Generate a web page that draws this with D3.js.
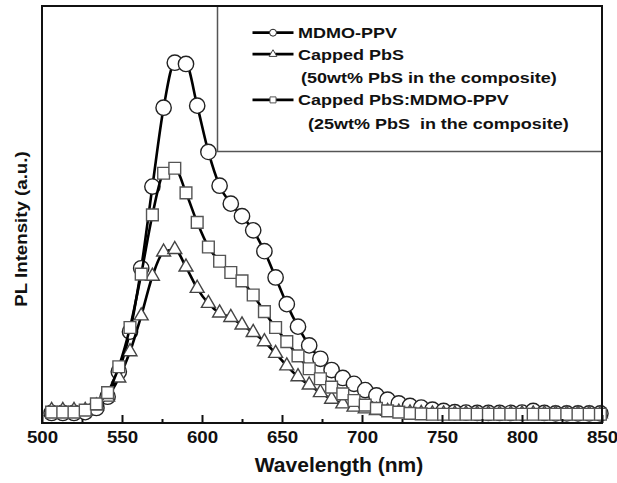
<!DOCTYPE html>
<html>
  <head>
    <style>
      body,
      html {
        margin: 0;
        padding: 0;
        background: #fff;
      }
      svg text {
        font-family: 'Liberation Sans', Arial, sans-serif;
        font-weight: bold;
        fill: #111;
      }
    </style>
  </head>
  <body>
    <svg id="svg" width="617" height="483"></svg>

    <script src="https://cdn.jsdelivr.net/npm/d3@7"></script>
    <script>
      // wavelength (nm) of every plotted point
      const wavelengths = [
        506, 513, 520, 527, 534, 541, 548, 555, 562, 569, 576, 583, 590, 597,
        604, 611, 618, 625, 632, 639, 646, 653, 660, 667, 674, 681, 688, 695,
        702, 709, 716, 723, 730, 737, 744, 751, 758, 765, 772, 779, 786, 793,
        800, 807, 814, 821, 828, 835, 842, 849,
      ];
      // PL intensity, arbitrary units
      const mdmoPPV = [
        2.4, 2.4, 2.4, 2.6, 3.6, 6.3, 12.3, 21.9, 37.1, 56.7, 75.6, 86.4, 86.1,
        76.1, 65.0, 56.9, 52.6, 49.6, 46.2, 41.2, 34.9, 28.5, 23.1, 18.6, 15.4,
        12.7, 10.8, 9.4, 7.9, 6.6, 5.6, 4.7, 4.1, 3.7, 3.2, 2.9, 2.6, 2.5, 2.4,
        2.4, 2.4, 2.4, 2.5, 2.9, 2.4, 2.3, 2.3, 2.3, 2.3, 2.3,
      ];
      const cappedPbS = [
        3.0, 3.0, 3.0, 3.0, 4.1, 6.2, 10.8, 17.1, 25.7, 35.2, 41.0, 41.6, 37.4,
        32.3, 28.7, 26.4, 25.3, 23.5, 21.7, 19.5, 16.7, 13.7, 11.1, 9.1, 7.3,
        5.7, 4.6, 3.8, 3.4, 3.0, 2.8, 2.6, 2.4, 2.3, 2.2, 2.2, 2.2, 2.2, 2.2,
        2.2, 2.2, 2.2, 2.2, 2.2, 2.2, 2.2, 2.2, 2.2, 2.2, 2.2,
      ];
      const compositePPV = [
        2.6, 2.6, 2.6, 3.1, 4.6, 7.3, 13.5, 22.9, 35.7, 49.9, 59.9, 61.1, 55.2,
        48.1, 42.2, 38.8, 36.1, 34.1, 30.7, 26.7, 22.9, 19.5, 16.1, 13.0, 10.6,
        8.6, 7.0, 5.4, 4.3, 3.5, 2.9, 2.6, 2.3, 2.2, 2.1, 2.1, 2.1, 2.1, 2.1,
        2.1, 2.1, 2.1, 2.1, 2.1, 2.1, 2.1, 2.1, 2.1, 2.1, 2.1,
      ];
      const xTicks = [500, 550, 600, 650, 700, 750, 800, 850];
      const xMinorTicks = [525, 575, 625, 675, 725, 775, 825];
      const legendLabels = [
        'MDMO-PPV',
        'Capped PbS',
        '(50wt% PbS in the composite)',
        'Capped PbS:MDMO-PPV',
        '(25wt% PbS  in the composite)',
      ];

      const width = 617;
      const height = 483;
      const plotLeft = 42;
      const plotRight = 602;
      const plotTop = 6;
      const plotBottom = 423;

      const xScale = d3
        .scaleLinear()
        .domain([500, 850])
        .range([plotLeft, plotRight]);
      const yScale = d3
        .scaleLinear()
        .domain([0, 100])
        .range([plotBottom, plotTop]);

      const svg = d3.select('#svg');

      // legend frame sits under the curves
      svg
        .append('rect')
        .attr('x', 217.5)
        .attr('y', plotTop)
        .attr('width', plotRight - 217.5)
        .attr('height', 151.5 - plotTop)
        .attr('fill', 'none')
        .attr('stroke', '#555')
        .attr('stroke-width', 1.5);

      const series = [
        { values: mdmoPPV, symbol: d3.symbolCircle, size: 185, stroke: '#222' },
        { values: cappedPbS, symbol: d3.symbolTriangle, size: 84, stroke: '#444' },
        { values: compositePPV, symbol: d3.symbolSquare, size: 138, stroke: '#555' },
      ];

      const linegen = d3
        .line()
        .x((d) => xScale(d.w))
        .y((d) => yScale(d.v))
        .curve(d3.curveMonotoneX);

      series.forEach((s) => {
        const pts = wavelengths.map((w, i) => ({ w: w, v: s.values[i] }));
        const g = svg.append('g');
        g.append('path')
          .attr('d', linegen(pts))
          .attr('fill', 'none')
          .attr('stroke', '#000')
          .attr('stroke-width', 2.6);
        g.selectAll('path.marker')
          .data(pts)
          .join('path')
          .attr('class', 'marker')
          .attr('transform', (d) => `translate(${xScale(d.w)},${yScale(d.v)})`)
          .attr('d', d3.symbol().type(s.symbol).size(s.size))
          .attr('fill', '#fff')
          .attr('stroke', s.stroke)
          .attr('stroke-width', 1.4);
      });

      // frame
      svg
        .append('rect')
        .attr('x', plotLeft)
        .attr('y', plotTop)
        .attr('width', plotRight - plotLeft)
        .attr('height', plotBottom - plotTop)
        .attr('fill', 'none')
        .attr('stroke', '#111')
        .attr('stroke-width', 2);

      // x axis, ticks pointing inward
      const bottomAxis = d3
        .axisBottom(xScale)
        .tickValues(xTicks)
        .tickSize(-8)
        .tickPadding(9)
        .tickFormat(d3.format('d'));
      const gx = svg
        .append('g')
        .attr('transform', `translate(0, ${plotBottom})`)
        .call(bottomAxis);
      gx.select('.domain').remove();
      gx.selectAll('line').attr('stroke', '#111').attr('stroke-width', 2);
      gx.selectAll('text')
        .attr('font-size', 16)
        .attr('fill', '#111')
        .attr('font-family', null)
        .attr('transform', 'scale(1.17,1)');

      const minorAxis = d3
        .axisBottom(xScale)
        .tickValues(xMinorTicks)
        .tickSize(-4)
        .tickFormat('');
      const gm = svg
        .append('g')
        .attr('transform', `translate(0, ${plotBottom})`)
        .call(minorAxis);
      gm.select('.domain').remove();
      gm.selectAll('line').attr('stroke', '#111').attr('stroke-width', 2);

      // axis titles
      svg
        .append('text')
        .attr('x', (plotLeft + plotRight) / 2 + 17)
        .attr('y', 471.5)
        .attr('text-anchor', 'middle')
        .attr('font-size', 21)
        .text('Wavelength (nm)');

      svg
        .append('text')
        .attr('transform', 'translate(27, 229) rotate(-90) scale(1.1,1)')
        .attr('text-anchor', 'middle')
        .attr('font-size', 17)
        .text('PL Intensity (a.u.)');

      // legend
      const legendRows = [
        { label: legendLabels[0], y: 38, x: 298, marker: series[0], msize: 38 },
        { label: legendLabels[1], y: 59.5, x: 298, marker: series[1], msize: 26 },
        { label: legendLabels[2], y: 82.5, x: 301 },
        { label: legendLabels[3], y: 105.2, x: 298, marker: series[2], msize: 36 },
        { label: legendLabels[4], y: 128.5, x: 308 },
      ];
      const legend = svg.append('g');
      legendRows.forEach((r) => {
        if (r.marker) {
          const cy = r.y - 5.3;
          legend
            .append('line')
            .attr('x1', 252.5)
            .attr('x2', 293.5)
            .attr('y1', cy)
            .attr('y2', cy)
            .attr('stroke', '#000')
            .attr('stroke-width', 2.8);
          legend
            .append('path')
            .attr('transform', `translate(273, ${cy})`)
            .attr('d', d3.symbol().type(r.marker.symbol).size(r.msize))
            .attr('fill', '#fff')
            .attr('stroke', r.marker.stroke)
            .attr('stroke-width', 1);
        }
        legend
          .append('text')
          .attr('transform', `translate(${r.x}, ${r.y}) scale(1.2,1)`)
          .attr('font-size', 15)
          .style('white-space', 'pre')
          .text(r.label);
      });
    </script>
  </body>
</html>
